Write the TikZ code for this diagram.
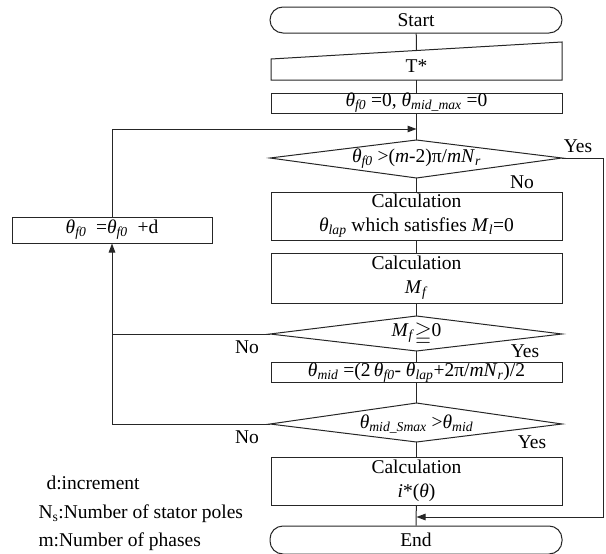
\documentclass[tikz,border=0pt]{standalone}
\usepackage{fontspec}
\usepackage{amssymb}
\setmainfont{LiberationSerif}[Extension=.ttf, UprightFont=*-Regular, ItalicFont=*-Italic, BoldFont=*-Bold, BoldItalicFont=*-BoldItalic]
\usetikzlibrary{arrows.meta}
\newcommand\Th[1]{\textit{θ}\textsubscript{\textit{#1}}}
\newcommand\Sb[1]{\textsubscript{\textit{#1}}}
\begin{document}
\begin{tikzpicture}[x=1pt,y=-1pt,
  line width=1pt, draw=black!85,
  every node/.style={font=\fontsize{19.5}{24}\selectfont, inner sep=0pt, align=center},
  proc/.style={draw, minimum width=291pt},
  term/.style={draw, minimum width=292pt, rounded corners=13pt},
  lab/.style={font=\fontsize{19.5}{24}\selectfont},
  arr/.style={-{Triangle[length=9pt,width=6.5pt]}}]
\useasboundingbox (0,0) rectangle (606,554);
% terminals
\node[term, minimum height=26pt] (start) at (416,20) {Start};
\node[term, minimum height=28pt] (end) at (416,540) {End};
% manual input
\draw (271,59) -- (562,42) -- (562,80) -- (271,80) -- cycle;
\coordinate (tt) at (416.5,50.5);
\coordinate (tb) at (416.5,80);
\node (tstar) at (416.5,66) {T*};
% processes
\node[proc, minimum height=20pt] (init) at (416.5,103) {\Th{f0} =0, \Th{mid\_max} =0};
\node[proc, minimum height=48pt] (calc1) at (416.5,216) {Calculation\\\Th{lap} which satisfies \textit{M}\Sb{l}=0};
\node[proc, minimum height=50pt] (calc2) at (416.5,278) {Calculation\\\textit{M}\Sb{f}};
\node[proc, minimum height=19pt] (mid) at (416.5,372.5) {\Th{mid} =(2\,\Th{f0}- \Th{lap}+2π/\textit{mN}\Sb{r})/2};
\node[proc, minimum height=48pt] (calc3) at (416.5,481) {Calculation\\\textit{i}*(\textit{θ})};
\node[proc, minimum width=200pt, minimum height=26pt] (lbox) at (112,230) {\Th{f0} \ =\Th{f0} \ +d};
% diamonds
\coordinate (d1t) at (416.5,140); \coordinate (d1b) at (416.5,178);
\coordinate (d1l) at (270,158);   \coordinate (d1r) at (562,158);
\draw (d1t) -- (d1r) -- (d1b) -- (d1l) -- cycle;
\node (d1) at (416.5,159) {\Th{f0} >(\textit{m}-2)π/\textit{mN}\Sb{r}};
\coordinate (d2t) at (416.5,316); \coordinate (d2b) at (416.5,351);
\coordinate (d2l) at (270,334);   \coordinate (d2r) at (562,334);
\draw (d2t) -- (d2r) -- (d2b) -- (d2l) -- cycle;
\node (d2) at (416.5,334) {\textit{M}\Sb{f}\raisebox{-3pt}{\fontsize{22}{22}\selectfont$\geqq$}0};
\coordinate (d3t) at (416.5,403); \coordinate (d3b) at (416.5,442);
\coordinate (d3l) at (270,424);   \coordinate (d3r) at (562,424);
\draw (d3t) -- (d3r) -- (d3b) -- (d3l) -- cycle;
\node (d3) at (416.5,424) {\Th{mid\_Smax} >\Th{mid}};
% connectors
\coordinate (j1) at (416.5,129);
\coordinate (j2) at (416.5,517);
\coordinate (c1) at (112,129);
\coordinate (c2) at (112,334);
\coordinate (c3) at (112,424);
\coordinate (r1) at (603,158);
\coordinate (r2) at (603,517);
\draw (start) -- (tt);
\draw (tb) -- (init);
\draw (init) -- (d1t);
\draw (d1b) -- (calc1);
\draw (calc1) -- (calc2);
\draw (calc2) -- (d2t);
\draw (d2b) -- (mid);
\draw (mid) -- (d3t);
\draw (d3b) -- (calc3);
\draw (calc3) -- (end);
\draw[arr] (lbox) -- (c1) -- (j1);
\draw[arr] (d2l) -- (c2) -- (lbox);
\draw (d3l) -- (c3) -- (c2);
\draw[arr] (d1r) -- (r1) -- (r2) -- (j2);
% labels
\node[lab] (y1) at (578,146) {Yes};
\node[lab] (n1) at (522,182) {No};
\node[lab] (y2) at (525,351) {Yes};
\node[lab] (n2) at (247,347) {No};
\node[lab] (y3) at (532,442) {Yes};
\node[lab] (n3) at (247,437) {No};
% legend
\node[lab, anchor=base west] (lg1) at (46,489) {d:increment};
\node[lab, anchor=base west] (lg2) at (38,518) {N\textsubscript{s}:Number of stator poles};
\node[lab, anchor=base west] (lg3) at (38,546) {m:Number of phases};
\end{tikzpicture}
\end{document}
